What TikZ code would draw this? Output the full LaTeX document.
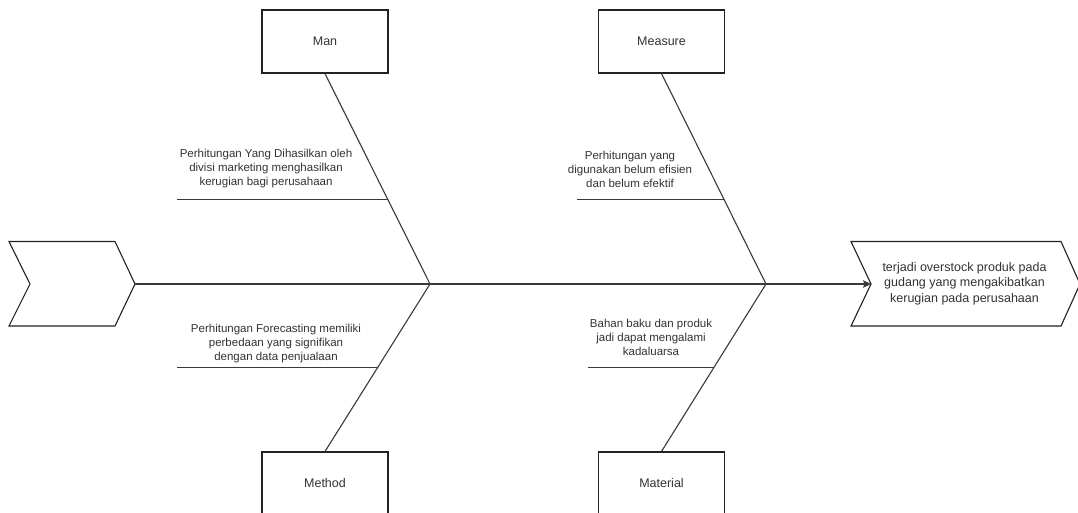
\documentclass[tikz,border=0pt]{standalone}
\usepackage{fontspec}
\setmainfont{Liberation Sans}
\usetikzlibrary{arrows.meta,calc}
\definecolor{ln}{HTML}{3A3A3A}
\definecolor{bx}{HTML}{222222}
\definecolor{tx}{HTML}{333333}
\begin{document}
\begin{tikzpicture}[x=1pt,y=-1pt,
  catbox/.style={draw=bx, line width=1.1pt, minimum width=126pt, minimum height=63pt, inner sep=0pt,
    font=\fontsize{12.5}{15}\selectfont, text=tx},
  bone/.style={draw=ln, line width=1.1pt},
  cause/.style={align=center, inner sep=0pt, font=\fontsize{11.5}{14}\selectfont, text=tx},
  effecttext/.style={align=center, inner sep=0pt, font=\fontsize{12.5}{15.5}\selectfont, text=tx},
  chev/.style={draw=bx, line width=1.1pt}]
\useasboundingbox (0,0) rectangle (1078,512);
\clip (0,0) rectangle (1078,512);
\fill[white] (0,0) rectangle (1078,512);

% head and tail chevrons
\coordinate (tail) at (135,284);
\coordinate (head) at (871,284);
\draw[chev] (9,241.5) -- (115,241.5) -- (tail) -- (115,326) -- (9,326) -- (30,284) -- cycle;
\draw[chev] (851,241.5) -- (1061,241.5) -- (1080,284) -- (1061,326) -- (851,326) -- (head) -- cycle;
\node[effecttext] (effect) at (964.5,283.5) {terjadi overstock produk pada\\gudang yang mengakibatkan\\kerugian pada perusahaan};

% spine
\coordinate (j1) at (430,284);
\coordinate (j2) at (766,284);
\draw[bone, -{Stealth[length=8pt,width=7.5pt,inset=1.5pt]}] (tail) -- (head);

% category boxes
\node[catbox] (man) at (325,41.5) {Man};
\node[catbox] (measure) at (661.5,41.5) {Measure};
\node[catbox] (method) at (325,483.5) {Method};
\node[catbox] (material) at (661.5,483.5) {Material};

% main bones
\draw[bone] (man.south) -- (j1);
\draw[bone] (measure.south) -- (j2);
\draw[bone] (j1) -- (method.north);
\draw[bone] (j2) -- (material.north);

% sub-bones
\coordinate (s1) at ($(man.south)!0.597!(j1)$);
\coordinate (s1e) at ($(s1)+(-211,0)$);
\coordinate (s2) at ($(measure.south)!0.597!(j2)$);
\coordinate (s2e) at ($(s2)+(-147,0)$);
\coordinate (s3) at ($(j1)!0.5!(method.north)$);
\coordinate (s3e) at ($(s3)+(-201,0)$);
\coordinate (s4) at ($(j2)!0.5!(material.north)$);
\coordinate (s4e) at ($(s4)+(-126,0)$);
\draw[bone] (s1) -- (s1e);
\draw[bone] (s2) -- (s2e);
\draw[bone] (s3) -- (s3e);
\draw[bone] (s4) -- (s4e);

% cause texts
\node[cause] (c1) at (266,169) {Perhitungan Yang Dihasilkan oleh\\divisi marketing menghasilkan\\kerugian bagi perusahaan};
\node[cause] (c2) at (630,169) {Perhitungan yang\\digunakan belum efisien\\dan belum efektif};
\node[cause] (c3) at (276,344) {Perhitungan Forecasting memiliki\\perbedaan yang signifikan\\dengan data penjualaan};
\node[cause] (c4) at (651,337) {Bahan baku dan produk\\jadi dapat mengalami\\kadaluarsa};
\end{tikzpicture}
\end{document}
